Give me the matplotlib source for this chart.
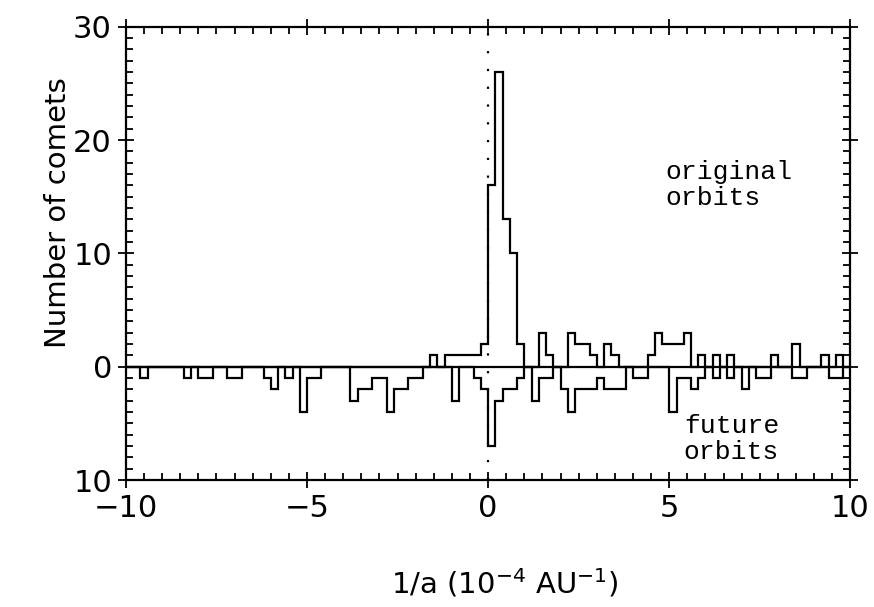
import numpy as np
import matplotlib
matplotlib.use("Agg")
import matplotlib.pyplot as plt
from matplotlib.ticker import MultipleLocator, FixedLocator, FixedFormatter

# Bin edges of 1/a (units of 1e-4 AU^-1), bin width 0.2
bin_edges = np.round(np.arange(-10.0, 10.0001, 0.2), 1)

# Number of comets per bin, original orbits (plotted upward)
original_counts = [
    0, 0, 0, 0, 0, 0, 0, 0, 0, 0,
    0, 0, 0, 0, 0, 0, 0, 0, 0, 0,
    0, 0, 0, 0, 0, 0, 0, 0, 0, 0,
    0, 0, 0, 0, 0, 0, 0, 0, 0, 0,
    0, 0, 1, 0, 1, 1, 1, 1, 1, 2,
    16, 26, 13, 10, 2, 0, 0, 3, 1, 0,
    0, 3, 2, 2, 1, 0, 2, 1, 0, 0,
    0, 0, 1, 3, 2, 2, 2, 3, 0, 1,
    0, 1, 0, 1, 0, 0, 0, 0, 0, 1,
    0, 0, 2, 0, 0, 0, 1, 0, 1, 0,
]

# Number of comets per bin, future orbits (plotted downward)
future_counts = [
    0, 0, 1, 0, 0, 0, 0, 0, 1, 0,
    1, 1, 0, 0, 1, 1, 0, 0, 0, 1,
    2, 0, 1, 0, 4, 1, 1, 0, 0, 0,
    0, 3, 2, 2, 1, 1, 4, 2, 2, 1,
    1, 0, 0, 0, 0, 3, 0, 0, 1, 2,
    7, 3, 2, 2, 1, 0, 3, 1, 1, 0,
    2, 4, 2, 2, 2, 1, 2, 2, 2, 0,
    1, 1, 0, 0, 0, 4, 1, 1, 2, 1,
    0, 1, 0, 1, 0, 2, 0, 1, 1, 0,
    0, 0, 1, 1, 0, 0, 0, 1, 1, 0,
]

x_ticks = [-10, -5, 0, 5, 10]
x_tick_labels = ["\u221210", "\u22125", "0", "5", "10"]
y_ticks = [-10, 0, 10, 20, 30]
y_tick_labels = ["10", "0", "10", "20", "30"]

fig = plt.figure(figsize=(8.74, 6.07), dpi=100)
ax = fig.add_axes([0.144, 0.209, 0.829, 0.747])

lw = 1.6
ax.stairs(np.array(original_counts), bin_edges, color="black", lw=lw, baseline=0)
ax.stairs(-np.array(future_counts), bin_edges, color="black", lw=lw, baseline=0)
ax.axhline(0, color="black", lw=1.6)
ax.axvline(0, color="black", lw=1.6, linestyle=(0, (1, 7)))

ax.set_xlim(-10, 10)
ax.set_ylim(-10, 30)

ax.xaxis.set_major_locator(FixedLocator(x_ticks))
ax.xaxis.set_major_formatter(FixedFormatter(x_tick_labels))
ax.xaxis.set_minor_locator(MultipleLocator(0.5))
ax.yaxis.set_major_locator(FixedLocator(y_ticks))
ax.yaxis.set_major_formatter(FixedFormatter(y_tick_labels))
ax.yaxis.set_minor_locator(MultipleLocator(1))

ax.tick_params(which="both", top=True, right=True, width=1.3, colors="black")
ax.tick_params(which="major", direction="inout", length=12, labelsize=22, pad=4)
ax.tick_params(which="minor", direction="in", length=5)
for s in ax.spines.values():
    s.set_linewidth(1.6)

ax.set_ylabel("Number of comets", fontsize=21)
ax.yaxis.set_label_coords(-0.075, 0.59)
ax.set_xlabel(r"1/a (10$^{-4}$ AU$^{-1}$)", fontsize=21)
ax.xaxis.set_label_coords(0.523, -0.19)

ax.text(4.9, 16.0, "original\norbits", fontsize=19, family="Liberation Mono",
        ha="left", va="center", linespacing=1.1, color="black")
ax.text(5.4, -6.4, "future\norbits", fontsize=19, family="Liberation Mono",
        ha="left", va="center", linespacing=1.1, color="black")

fig.savefig("out.png", dpi=100)
